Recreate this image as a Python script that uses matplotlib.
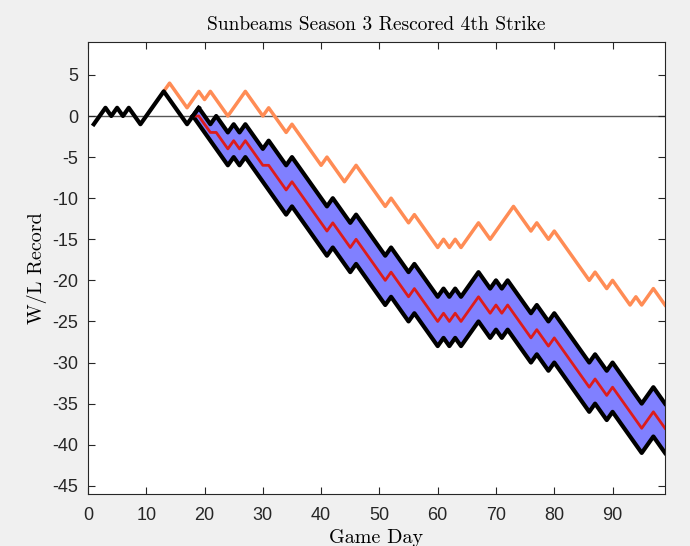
import numpy as np
import matplotlib.pyplot as plt

plt.rcParams['axes.unicode_minus'] = False

# actual record up to the split
actual_days = list(range(1, 20))
actual_wl = [-1, 0, 1, 0, 1, 0, 1, 0, -1, 0, 1, 2, 3, 2, 1, 0, -1, 0, 1]

# original scoring branch
orange_days = list(range(13, 100))
orange_wl = [3, 4, 3, 2, 1, 2, 3, 2, 3, 2, 1, 0, 1, 2, 3, 2, 1, 0, 1, 0,
             -1, -2, -1, -2, -3, -4, -5, -6, -5, -6, -7, -8, -7, -6, -7, -8, -9, -10, -11, -10,
             -11, -12, -13, -12, -13, -14, -15, -16, -15, -16, -15, -16, -15, -14, -13, -14, -15, -14, -13, -12,
             -11, -12, -13, -14, -13, -14, -15, -14, -15, -16, -17, -18, -19, -20, -19, -20, -21, -20, -21, -22,
             -23, -22, -23, -22, -21, -22, -23]

# rescored band (days 18..99)
band_days = list(range(18, 100))
upper_wl = [0, 1, 0, -1, 0, -1, -2, -1, -2, -1, -2, -3, -4, -3, -4, -5, -6, -5, -6, -7,
            -8, -9, -10, -11, -10, -11, -12, -13, -12, -13, -14, -15, -16, -17, -16, -17, -18, -19, -18, -19,
            -20, -21, -22, -21, -22, -21, -22, -21, -20, -19, -20, -21, -20, -21, -20, -21, -22, -23, -24, -23,
            -24, -25, -24, -25, -26, -27, -28, -29, -30, -29, -30, -31, -30, -31, -32, -33, -34, -35, -34, -33,
            -34, -35]
mid_wl = [0, 0, -1, -2, -2, -3, -4, -3, -4, -3, -4, -5, -6, -6, -7, -8, -9, -8, -9, -10,
          -11, -12, -13, -14, -13, -14, -15, -16, -15, -16, -17, -18, -19, -20, -19, -20, -21, -22, -21, -22,
          -23, -24, -25, -24, -25, -24, -25, -24, -23, -22, -23, -24, -23, -24, -23, -24, -25, -26, -27, -26,
          -27, -28, -27, -28, -29, -30, -31, -32, -33, -32, -33, -34, -33, -34, -35, -36, -37, -38, -37, -36,
          -37, -38]
lower_wl = [0, -1, -2, -3, -4, -5, -6, -5, -6, -5, -6, -7, -8, -9, -10, -11, -12, -11, -12, -13,
            -14, -15, -16, -17, -16, -17, -18, -19, -18, -19, -20, -21, -22, -23, -22, -23, -24, -25, -24, -25,
            -26, -27, -28, -27, -28, -27, -28, -27, -26, -25, -26, -27, -26, -27, -26, -27, -28, -29, -30, -29,
            -30, -31, -30, -31, -32, -33, -34, -35, -36, -35, -36, -37, -36, -37, -38, -39, -40, -41, -40, -39,
            -40, -41]

xticks = list(range(0, 100, 10))
yticks = list(range(-45, 10, 5))

serif = ['cmr10', 'DejaVu Serif']

fig = plt.figure(figsize=(6.9, 5.46), dpi=100, facecolor='#f0f0f0')
ax = fig.add_axes([0.1275, 0.0952, 0.8363, 0.8278])

ax.axhline(0, color='#555555', lw=1.0, zorder=1)
ax.fill_between(band_days, lower_wl, upper_wl, color='#8080ff', lw=0, zorder=2)
ax.plot(band_days, upper_wl, color='k', lw=3, zorder=3)
ax.plot(band_days, lower_wl, color='k', lw=3, zorder=3)
ax.plot(band_days, mid_wl, color='#dd1c1c', lw=2, zorder=4)
ax.plot(orange_days, orange_wl, color='#ff8c55', lw=2.5, zorder=4)
ax.plot(actual_days, actual_wl, color='k', lw=3, zorder=5)

ax.set_xlim(0, 99)
ax.set_ylim(-46, 9)
ax.set_xticks(xticks)
ax.set_yticks(yticks)
ax.tick_params(direction='in', top=True, right=True, length=5, width=0.8,
               labelsize=13, colors='#262626')
ax.tick_params(axis='x', pad=9)
ax.tick_params(axis='y', pad=7)
for lab in ax.get_xticklabels() + ax.get_yticklabels():
    lab.set_fontfamily(['Liberation Sans', 'DejaVu Sans'])
for s in ax.spines.values():
    s.set_color('#262626')
    s.set_linewidth(0.8)

ax.set_title('Sunbeams Season 3 Rescored 4th Strike', family=serif, fontsize=14, pad=9)
ax.set_xlabel('Game Day', family=serif, fontsize=14.5, labelpad=4)
ax.set_ylabel('W/L Record', family=serif, fontsize=14.5, labelpad=4)

fig.savefig('out.png', dpi=100, facecolor=fig.get_facecolor())
